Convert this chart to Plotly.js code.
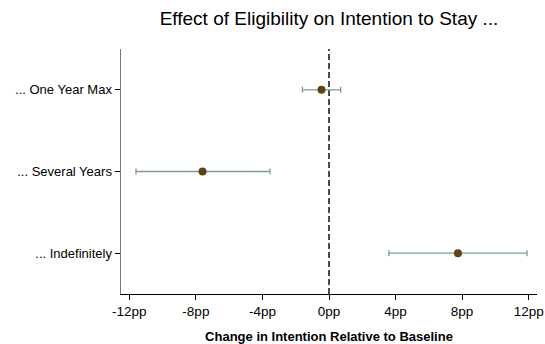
<!DOCTYPE html>
<html><head><meta charset="utf-8">
<script src="https://cdn.plot.ly/plotly-3.0.1.min.js"></script>
<style>html,body{margin:0;padding:0;background:#fff}#c{width:545px;height:344px}</style>
</head><body><div id="c"></div>
<script>
const categories = ["... One Year Max", "... Several Years", "... Indefinitely"];
const estimates = [-0.45, -7.6, 7.75];
const ciLow = [-1.6, -11.6, 3.6];
const ciHigh = [0.7, -3.55, 11.9];
const tickVals = [-12, -8, -4, 0, 4, 8, 12];
const tickText = ["-12pp", "-8pp", "-4pp", "0pp", "4pp", "8pp", "12pp"];

const trace = {
  type: "scatter", mode: "markers",
  x: estimates, y: categories,
  marker: {color: "#5e4313", size: 8},
  error_x: {type: "data", symmetric: false,
    array: ciHigh.map((h, i) => h - estimates[i]),
    arrayminus: estimates.map((e, i) => e - ciLow[i]),
    color: "#7d9c92", thickness: 1.3, width: 3},
  hoverinfo: "none"
};
const layout = {
  width: 545, height: 344,
  margin: {l: 121, r: 8, t: 49, b: 50},
  paper_bgcolor: "#fff", plot_bgcolor: "#fff",
  font: {family: "Liberation Sans, Arial, sans-serif", color: "#000", size: 13},
  title: {text: "Effect of Eligibility on Intention to Stay ...", font: {size: 19}, xref: "paper", x: 0.5, xanchor: "center", yref: "container", y: 0.947, yanchor: "middle"},
  showlegend: false,
  xaxis: {range: [-12.5, 12.5], tickvals: tickVals, ticktext: tickText,
    showgrid: false, zeroline: false, showline: true, linecolor: "#000", linewidth: 1,
    ticks: "outside", ticklen: 5, tickcolor: "#000", tickfont: {size: 13.5},
    title: {text: "<b>Change in Intention Relative to Baseline</b>", font: {size: 13}, standoff: 14}},
  yaxis: {type: "category", categoryorder: "array", categoryarray: categories,
    autorange: false, range: [2.5, -0.5],
    showgrid: false, zeroline: false, showline: true, linecolor: "#777", linewidth: 1.5,
    ticks: "outside", ticklen: 5, tickcolor: "#000", tickfont: {size: 13}},
  shapes: [{type: "line", xref: "x", yref: "paper", x0: 0, x1: 0, y0: 0, y1: 1,
    line: {color: "#000", width: 1.4, dash: "6px,3px"}, layer: "below"}]
};
Plotly.newPlot("c", [trace], layout, {displayModeBar: false, staticPlot: true});
</script></body></html>
